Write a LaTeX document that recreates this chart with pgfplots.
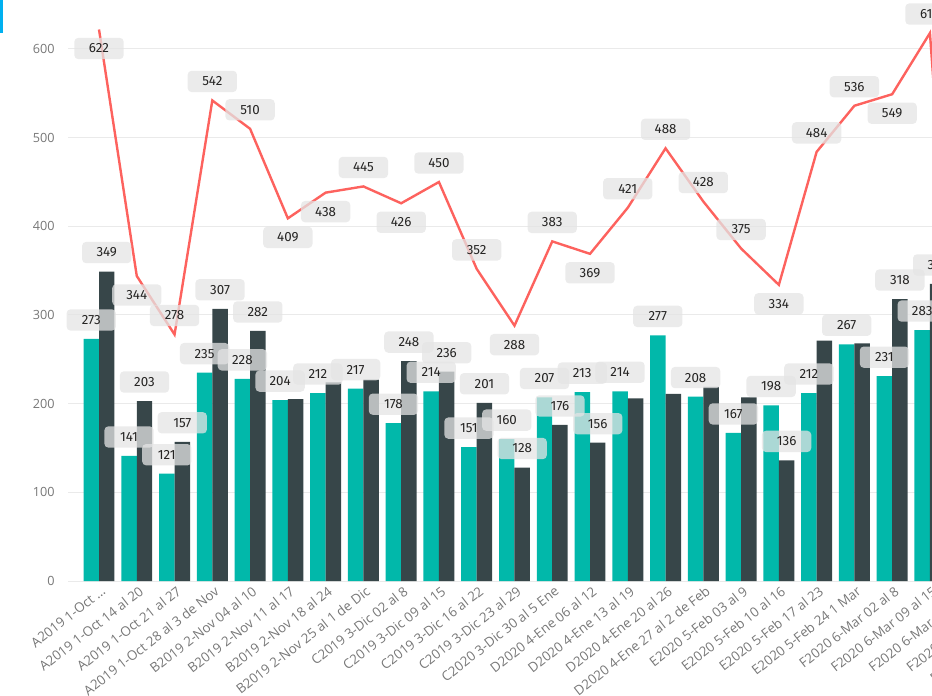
\documentclass[border=0pt]{standalone}
\usepackage{pgfplots}
\pgfplotsset{compat=1.18}
\usepackage{pgfplotstable}
\usepackage{fontspec}
\setmainfont{Open Sans}
\newfontfamily\labfont{Fira Sans}

\definecolor{bteal}{HTML}{01B8AA}
\definecolor{bdark}{HTML}{374649}
\definecolor{bred}{HTML}{FD625E}
\definecolor{tickgray}{HTML}{777777}
\definecolor{gridgray}{HTML}{EAEAEA}
\definecolor{labbg}{HTML}{E4E4E4}
\definecolor{labtxt}{HTML}{252423}
\definecolor{pbiblue}{HTML}{00B0F0}

% x = week index, sd = dark label shown, lp = line label above (1) / below (-1)
\pgfplotstableread{
x  teal dark line sd lp
0  273  349  622  1  -1
1  141  203  344  1  -1
2  121  157  278  1   1
3  235  307  542  1   1
4  228  282  510  1   1
5  204  205  409  0  -1
6  212  224  438  0  -1
7  217  227  445  0   1
8  178  248  426  1  -1
9  214  236  450  1   1
10 151  201  352  1   1
11 160  128  288  1  -1
12 207  176  383  1   1
13 213  156  369  1  -1
14 214  206  421  0   1
15 277  211  488  0   1
16 208  219  428  0   1
17 167  207  375  0   1
18 198  136  334  1  -1
19 212  271  484  0   1
20 267  268  536  0   1
21 231  318  549  1  -1
22 283  335  618  1   1
23 nan  nan  30   0   1
}\data

\tikzset{lab/.style={fill=labbg, fill opacity=0.75, text opacity=1, text=labtxt,
  rounded corners=3pt, inner sep=0pt, minimum width=37pt, minimum height=16pt,
  font=\labfont\fontsize{10}{12}\selectfont, anchor=center}}

\begin{document}
\begin{tikzpicture}
\useasboundingbox (-51pt,-86.25pt) rectangle (648pt,435.75pt);
\clip (-51pt,-86.25pt) rectangle (648pt,435.75pt);
\begin{axis}[
    scale only axis,
    width=745.6pt, height=432.25pt,
    xmin=-0.821, xmax=25.5,
    ymin=0, ymax=650,
    clip=false,
    axis line style={draw=none},
    major tick length=0pt,
    ymajorgrids,
    grid style={gridgray, line width=0.75pt},
    ytick={0,100,200,300,400,500,600},
    xtick={0,1,2,3,4,5,6,7,8,9,10,11,12,13,14,15,16,17,18,19,20,21,22,23,24,25},
    xticklabels={{A2019 1-Oct …},{A2019 1-Oct 14 al 20},{A2019 1-Oct 21 al 27},
      {A2019 1-Oct 28 al 3 de Nov},{B2019 2-Nov 04 al 10},{B2019 2-Nov 11 al 17},
      {B2019 2-Nov 18 al 24},{B2019 2-Nov 25 al 1 de Dic},{C2019 3-Dic 02 al 8},
      {C2019 3-Dic 09 al 15},{C2019 3-Dic 16 al 22},{C2019 3-Dic 23 al 29},
      {C2020 3-Dic 30 al 5 Ene},{D2020 4-Ene 06 al 12},{D2020 4-Ene 13 al 19},
      {D2020 4-Ene 20 al 26},{D2020 4-Ene 27 al 2 de Feb},{E2020 5-Feb 03 al 9},
      {E2020 5-Feb 10 al 16},{E2020 5-Feb 17 al 23},{E2020 5-Feb 24 1 Mar},
      {F2020 6-Mar 02 al 8},{F2020 6-Mar 09 al 15},{F2020 6-Mar 16 al 22},
      {F2020 6-Mar 23 al 29},{F2020 6-Mar 30 al 5 Abr}},
    tick label style={font=\fontsize{9.5}{11}\selectfont, text=tickgray},
    x tick label style={rotate=38, anchor=north east, inner sep=1pt, yshift=-2pt, font=\fontsize{10}{12}\selectfont},
    yticklabel style={xshift=-6.5pt},
    /pgf/number format/assume math mode=true,
]
% bars
\addplot[ybar, bar width=11.6pt, bar shift=-5.8pt, fill=bteal, draw=none]
    table[x=x, y=teal]{\data};
\addplot[ybar, bar width=11.6pt, bar shift=5.8pt, fill=bdark, draw=none]
    table[x=x, y=dark]{\data};
% line
\addplot[bred, line width=1.8pt, mark=none] table[x=x, y=line]{\data};

% data labels
\addplot[draw=none, mark=none, nodes near coords, point meta=explicit symbolic,
    every node near coord/.append style={lab, xshift=-5.8pt, yshift=14.25pt}]
    table[x=x, y=teal, meta=teal]{\data};
\addplot[draw=none, mark=none, nodes near coords, point meta=explicit symbolic,
    restrict expr to domain={\thisrow{sd}}{1:1},
    every node near coord/.append style={lab, xshift=5.8pt, yshift=14.25pt}]
    table[x=x, y=dark, meta=dark]{\data};
\addplot[draw=none, mark=none, nodes near coords, point meta=explicit symbolic,
    visualization depends on={\thisrow{lp} \as \lp},
    every node near coord/.append style={lab, yshift=\lp*14.25pt}]
    table[x=x, y=line, meta=line]{\data};
\end{axis}
\fill[pbiblue] (-51pt,411pt) rectangle (-48.75pt,435.75pt);
\end{tikzpicture}
\end{document}
